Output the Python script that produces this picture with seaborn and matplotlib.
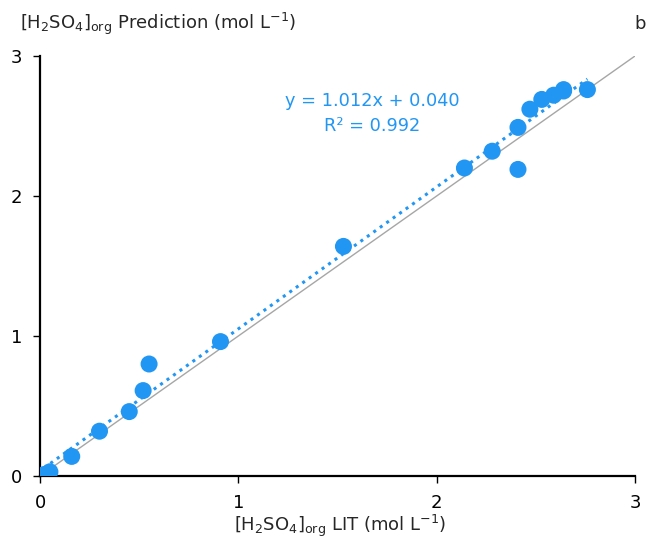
import numpy as np
import pandas as pd
import matplotlib
matplotlib.use("Agg")
import matplotlib.pyplot as plt
import seaborn as sns

lit = [0.02, 0.05, 0.16, 0.30, 0.45, 0.52, 0.55, 0.91, 1.53, 2.14, 2.28, 2.41, 2.41, 2.47, 2.53, 2.59, 2.64, 2.64, 2.76]
pred = [0.01, 0.03, 0.14, 0.32, 0.46, 0.61, 0.80, 0.96, 1.64, 2.20, 2.32, 2.49, 2.19, 2.62, 2.69, 2.72, 2.75, 2.76, 2.76]
ticks = [0, 1, 2, 3]
eq_text = "y = 1.012x + 0.040\nR² = 0.992"

sns.set_theme(style="white")
plt.rcParams['font.family'] = ['DejaVu Sans']
plt.rcParams['mathtext.fontset'] = 'custom'
plt.rcParams['mathtext.rm'] = 'DejaVu Sans'
plt.rcParams['mathtext.it'] = 'DejaVu Sans'

blue = '#2196f3'
df = pd.DataFrame({'lit': lit, 'pred': pred})

fig = plt.figure(figsize=(6.48, 5.41), dpi=100)
ax = fig.add_axes([40/648, 65/541, 595/648, 420/541])

ax.plot(ticks, ticks, color='#a6a6a6', lw=1.0, zorder=1)
sns.regplot(data=df, x='lit', y='pred', ax=ax, scatter=False, ci=None,
            line_kws=dict(color=blue, lw=2.2, linestyle=(0, (1, 1.6))))
sns.scatterplot(data=df, x='lit', y='pred', ax=ax, color=blue, s=150,
                edgecolor='none', zorder=3)

ax.set_xlim(0, 3)
ax.set_ylim(0, 3)
ax.set_xticks(ticks)
ax.set_yticks(ticks)
ax.set_xlabel('')
ax.set_ylabel('')
for s in ['top', 'right']:
    ax.spines[s].set_visible(False)
for s in ['left', 'bottom']:
    ax.spines[s].set_color('black')
    ax.spines[s].set_linewidth(1.6)
ax.tick_params(axis='both', which='both', direction='out', length=5, width=1,
               color='black', labelsize=13, labelcolor='black', pad=8, bottom=True, left=True)

ax.text(1.674, 2.59, eq_text, color=blue, fontsize=12.8, ha='center', va='center',
        linespacing=1.45)

fig.text(20/648, 1 - 24/541, r'[H$_2$SO$_4$]$_{\rm org}$ Prediction (mol L$^{-1}$)',
         fontsize=13, ha='left', va='center')
fig.text(340/648, 1 - 526/541, r'[H$_2$SO$_4$]$_{\rm org}$ LIT (mol L$^{-1}$)',
         fontsize=13, ha='center', va='center')
fig.text(634/648, 1 - 24/541, 'b', fontsize=13, ha='left', va='center')

fig.savefig('out.png', dpi=100)
